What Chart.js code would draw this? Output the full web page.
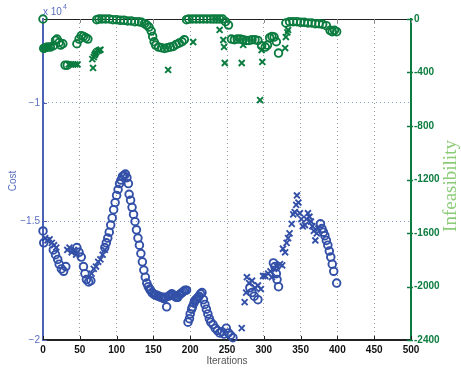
<!DOCTYPE html>
<html>
<head>
<meta charset="utf-8">
<script src="https://cdn.jsdelivr.net/npm/chart.js@4/dist/chart.umd.min.js"></script>
<style>
  body { margin: 0; background: #fff; }
  #wrap { width: 461px; height: 369px; }
</style>
</head>
<body>
<div id="wrap"><canvas id="chart" width="461" height="369"></canvas></div>
<script>
// Cost (left axis) per iteration, circles and crosses
const costCircleIter = [0, 1, 14, 17, 20, 22, 25, 28, 31,
    46, 49, 52, 55, 57, 59, 62, 65,
    84, 86, 88, 90, 92, 94, 96, 98, 100, 102, 104, 106, 108, 110, 112, 114, 116, 117, 119, 121, 123, 125, 127, 129,
    131, 133, 135, 137, 139, 141, 143, 145, 146, 148, 150, 152, 154, 156, 158, 160, 162, 164, 166, 168, 171, 173, 175, 177, 179, 181, 183, 185, 187, 189, 191, 193, 195,
    197, 199, 200, 202, 203, 205, 206, 208, 209, 211, 212, 214, 216, 218, 220, 222, 224, 226, 228, 231, 234, 237, 240, 243, 246, 249, 252, 255, 258,
    281, 284, 287, 292,
    313, 315, 317, 318, 320,
    377, 379, 381, 383, 385, 387, 389, 391, 393, 395, 399];
const costCircleVal = [-15400, -15900, -16200, -16400, -16600, -16800, -17000, -17100, -16900,
    -16100, -16300, -16500, -16900, -17200, -17450, -17550, -17500,
    -16100, -15900, -15700, -15450, -15150, -14850, -14500, -14200, -13900, -13650, -13400, -13250, -13100, -13050, -13000, -13150, -13400, -13850, -14100, -14400, -14700, -15000, -15350, -15700,
    -16000, -16350, -16700, -17050, -17350, -17600, -17750, -17850, -17900, -18000, -18050, -18100, -18100, -18150, -18150, -18200, -18200, -18250, -18200, -18600, -18150, -18100, -18050, -18100, -18150, -18200, -18200, -18100, -18050, -18000, -17950, -17900, -17900,
    -19250, -19100, -18900, -18700, -18600, -18450, -18350, -18300, -18250, -18200, -18150, -18050, -18000, -18300, -18500, -18700, -18900, -19100, -19250, -19350, -19500, -19600, -19700, -19650, -19750, -19500, -19700, -19800, -19900,
    -17800, -18000, -18150, -18300,
    -16750, -16900, -17200, -17450, -17750,
    -15100, -15300, -15450, -15600, -15800, -16000, -16250, -16500, -16800, -17100, -17600];

const costCrossIter = [3, 6, 9, 12, 15, 18,
    33, 36, 39, 42, 45,
    66, 69, 72, 75, 78, 81, 84,
    270, 274, 276, 277, 280, 284, 288, 292, 296, 299, 302, 306, 309, 311, 314, 318, 322, 325, 326, 329,
    331, 333, 335, 338, 340, 342, 344, 345, 347, 349, 351, 353, 356, 358, 360, 362, 364, 366, 368, 370, 372, 374];
const costCrossVal = [-15700, -15800, -15750, -15900, -16000, -16100,
    -16200, -16100, -16300, -16200, -16400,
    -17200, -17000, -16900, -16700, -16600, -16400, -16200,
    -19500, -18400, -18000, -17350, -17600, -17500, -17800, -17700, -17850, -17300, -17300, -17200, -17100, -17350, -17000, -16900, -16800, -16850, -16150, -16300,
    -15900, -15700, -15500, -15100, -14700, -14600, -14300, -13900, -14200, -14650, -14900, -15200, -15150, -14900, -14650, -14800, -15000, -15200, -15400, -15800, -15500, -15300];

// Infeasibility (right axis, shown negative) per iteration
const infCircleIter = [0, 1, 3, 6, 10, 14, 17, 19, 22, 24, 27, 30, 33,
    46, 49, 52, 55, 58, 61,
    73, 76, 80, 85, 90, 95, 100, 105, 110, 115, 120, 125, 130, 134, 138, 141, 144, 147, 149, 151,
    153, 157, 161, 165, 169, 173, 177, 181, 185, 189, 192,
    195, 198, 203, 208, 213, 218, 223, 228, 232, 236, 240, 244, 248, 252,
    256, 260, 264, 268, 272, 276, 280, 284, 288, 292, 297, 302, 305, 308, 311, 314, 317, 320,
    330, 335, 340, 345, 350, 355, 360, 365, 370, 375, 380, 385, 390, 393, 396, 399];
const infCircleVal = [0, -220, -215, -210, -210, -200, -160, -150, -175, -195, -185, -345, -345,
    -185, -150, -125, -130, -140, -150,
    -5, 0, 0, 0, 0, -5, -5, -10, -10, -15, -15, -20, -20, -25, -35, -45, -60, -90, -130, -170,
    -195, -210, -215, -220, -215, -210, -205, -190, -180, -170, -155,
    -5, 0, 0, 0, 0, 0, 0, 0, 0, 0, 0, 0, -20, -45,
    -150, -155, -150, -150, -155, -160, -160, -155, -155, -160, -200, -210, -195, -140, -130, -135, -170, -255,
    -30, -20, -20, -20, -25, -25, -30, -30, -35, -35, -40, -50, -85, -95, -85, -95];

const infCrossIter = [2, 5, 8, 11,
    35, 38, 41, 44, 47,
    67, 68, 69, 70, 71, 72, 74, 76, 78,
    170, 204, 240, 245, 246, 247, 270, 272, 295, 297, 298, 329, 330, 332, 333];
const infCrossVal = [-215, -210, -210, -205,
    -340, -340, -340, -340, -340,
    -300, -366, -285, -270, -260, -250, -240, -235, -230,
    -381, -172, -82, -157, -209, -329, -329, -194, -606, -232, -321, -217, -135, -100, -82];

// Tick values
const iterTicks = [0, 50, 100, 150, 200, 250, 300, 350, 400, 450, 500];
const costTicks = [-20000, -15000, -10000];
const infTicks = [0, -400, -800, -1200, -1600, -2000, -2400];

const BLUE = '#3350a8';
const BLUE_AXIS = '#4d62b4';
const GREEN = '#0b7c3f';

function toPoints(xs, ys) {
    return xs.map((x, i) => ({ x: x, y: ys[i] }));
}

function setTicks(values) {
    return function(scale) {
        scale.ticks = values.map(v => ({ value: v }));
    };
}

// Frame, inward tick marks and axis titles
const axisDecor = {
    id: 'axisDecor',
    beforeDatasetsDraw(chart) {
        const { ctx, chartArea: a, scales } = chart;
        ctx.save();
        ctx.lineWidth = 1;
        // top frame
        ctx.strokeStyle = '#222';
        ctx.beginPath();
        ctx.moveTo(a.left, a.top + 0.5);
        ctx.lineTo(a.right, a.top + 0.5);
        ctx.stroke();
        // x ticks
        iterTicks.forEach(v => {
            const px = Math.round(scales.x.getPixelForValue(v)) + 0.5;
            ctx.strokeStyle = '#222';
            ctx.beginPath();
            ctx.moveTo(px, a.bottom);
            ctx.lineTo(px, a.bottom - 4);
            ctx.stroke();
            ctx.strokeStyle = '#888';
            ctx.beginPath();
            ctx.moveTo(px, a.top);
            ctx.lineTo(px, a.top + 4);
            ctx.stroke();
        });
        // left ticks
        ctx.strokeStyle = BLUE_AXIS;
        costTicks.forEach(v => {
            const py = Math.round(scales.y.getPixelForValue(v)) + 0.5;
            ctx.beginPath();
            ctx.moveTo(a.left, py);
            ctx.lineTo(a.left + 4, py);
            ctx.stroke();
        });
        // right ticks
        ctx.strokeStyle = GREEN;
        ctx.lineWidth = 1.5;
        infTicks.forEach(v => {
            const py = Math.round(scales.y2.getPixelForValue(v)) + 0.5;
            ctx.beginPath();
            ctx.moveTo(a.right - 4, py);
            ctx.lineTo(a.right + 2, py);
            ctx.stroke();
        });
        ctx.restore();
    },
    afterDraw(chart) {
        const { ctx, chartArea: a } = chart;
        ctx.save();
        // Cost title
        ctx.fillStyle = '#5a6fc0';
        ctx.font = '10px "Liberation Sans", Arial, sans-serif';
        ctx.textAlign = 'center';
        ctx.textBaseline = 'middle';
        ctx.save();
        ctx.translate(13, 181);
        ctx.rotate(-Math.PI / 2);
        ctx.fillText('Cost', 0, 0);
        ctx.restore();
        // exponent
        ctx.textAlign = 'left';
        ctx.fillText('x 10', a.left, 12);
        ctx.font = '7px "Liberation Sans", Arial, sans-serif';
        ctx.fillText('4', a.left + 20, 7);
        // Iterations
        ctx.fillStyle = '#555';
        ctx.font = '10px "Liberation Sans", Arial, sans-serif';
        ctx.textAlign = 'center';
        ctx.fillText('Iterations', 227, 361);
        // Infeasibility
        ctx.fillStyle = '#8ccc78';
        ctx.font = '19px "Liberation Serif", "DejaVu Serif", serif';
        ctx.translate(451, 186);
        ctx.rotate(-Math.PI / 2);
        ctx.fillText('Infeasibility', 0, 0);
        ctx.restore();
    }
};

const circleStyle = { pointStyle: 'circle', pointRadius: 3.8, borderWidth: 1.9, backgroundColor: 'rgba(0,0,0,0)' };
const crossStyle = { pointStyle: 'crossRot', pointRadius: 4.2, borderWidth: 1.9 };

new Chart(document.getElementById('chart'), {
    type: 'scatter',
    data: {
        datasets: [
            Object.assign({ label: 'Cost', data: toPoints(costCircleIter, costCircleVal), borderColor: BLUE, yAxisID: 'y', clip: false }, circleStyle),
            Object.assign({ label: 'Cost (x)', data: toPoints(costCrossIter, costCrossVal), borderColor: BLUE, yAxisID: 'y', clip: false }, crossStyle),
            Object.assign({ label: 'Infeasibility', data: toPoints(infCircleIter, infCircleVal), borderColor: GREEN, yAxisID: 'y2', clip: false }, circleStyle),
            Object.assign({ label: 'Infeasibility (x)', data: toPoints(infCrossIter, infCrossVal), borderColor: GREEN, yAxisID: 'y2', clip: false }, crossStyle)
        ]
    },
    options: {
        responsive: false,
        animation: false,
        devicePixelRatio: 1,
        layout: { padding: { top: 19, left: 0, right: 0, bottom: 0 } },
        plugins: {
            legend: { display: false },
            tooltip: { enabled: false }
        },
        scales: {
            x: {
                type: 'linear',
                position: 'bottom',
                min: 0,
                max: 500,
                afterBuildTicks: setTicks(iterTicks),
                afterFit: function(scale) { scale.height = 29; },
                ticks: {
                    color: '#111',
                    font: { family: '"Liberation Sans", Arial, sans-serif', size: 10, weight: 'bold' },
                    padding: 4,
                    maxRotation: 0
                },
                grid: {
                    drawTicks: false,
                    lineWidth: 1,
                    color: ctx => (ctx.tick && (ctx.tick.value === 0 || ctx.tick.value === 500)) ? 'rgba(0,0,0,0)' : '#9a9a9a'
                },
                border: { display: true, color: '#222', width: 2, dash: [1, 3] }
            },
            y: {
                type: 'linear',
                position: 'left',
                min: -20000,
                max: -6456,
                afterBuildTicks: setTicks(costTicks),
                afterFit: function(scale) { scale.width = 43; },
                ticks: {
                    color: '#5a6fc0',
                    font: { family: '"Liberation Sans", Arial, sans-serif', size: 10 },
                    padding: 3,
                    callback: v => (v / 10000).toString().replace('-', '\u2212')
                },
                grid: {
                    drawTicks: false,
                    lineWidth: 1,
                    color: ctx => (ctx.tick && ctx.tick.value === -20000) ? 'rgba(0,0,0,0)' : '#8e9ed8'
                },
                border: { display: true, color: BLUE_AXIS, width: 2, dash: [1, 3] }
            },
            y2: {
                type: 'linear',
                position: 'right',
                min: -2400,
                max: 0,
                afterBuildTicks: setTicks(infTicks),
                afterFit: function(scale) { scale.width = 50; },
                ticks: {
                    color: GREEN,
                    font: { family: '"Liberation Sans", Arial, sans-serif', size: 10, weight: 'bold' },
                    padding: 3,
                    callback: v => v.toString()
                },
                grid: { display: false, drawTicks: false },
                border: { display: true, color: GREEN, width: 2 }
            }
        }
    },
    plugins: [axisDecor]
});
</script>
</body>
</html>
